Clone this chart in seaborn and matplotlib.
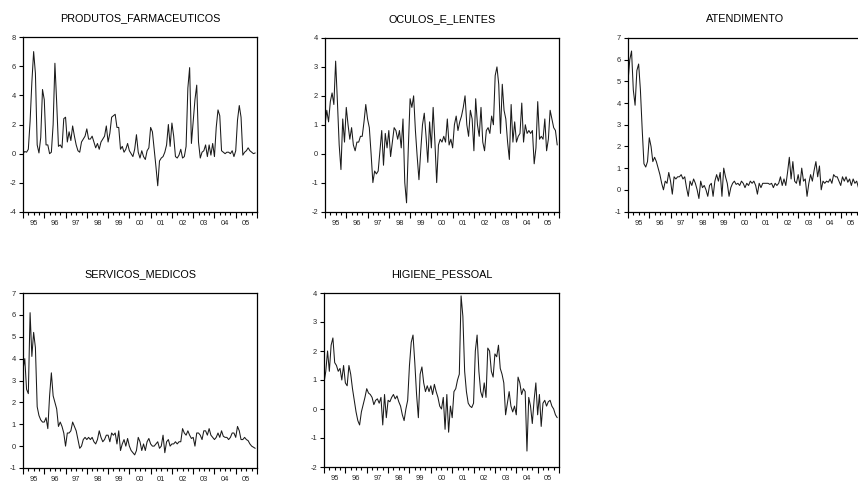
import numpy as np
import pandas as pd
import matplotlib
matplotlib.use("Agg")
import matplotlib.pyplot as plt
import seaborn as sns
from matplotlib.ticker import MultipleLocator

start_year = 1995
year_labels = ["95", "96", "97", "98", "99", "00", "01", "02", "03", "04", "05"]

produtos_farmaceuticos = [
    0.0, 0.15, 0.1, 0.3, 2.2, 4.9, 7.0, 5.5, 0.6, 0.05, 1.1, 4.4,
    3.7, 0.6, 0.6, 0.0, 0.1, 2.0, 6.2, 3.5, 0.5, 0.6, 0.4, 2.4,
    2.5, 0.8, 1.5, 0.9, 1.9, 1.2, 0.6, 0.2, 0.1, 0.8, 1.0, 1.2,
    1.7, 1.0, 1.0, 1.2, 0.8, 0.4, 0.7, 0.3, 0.8, 1.0, 1.2, 1.9,
    0.8, 1.4, 2.5, 2.6, 2.7, 1.8, 1.8, 0.3, 0.5, 0.1, 0.3, 0.7,
    0.2, 0.0, -0.2, 0.3, 1.3, 0.1, -0.3, 0.2, -0.2, -0.4, 0.2, 0.4,
    1.8, 1.5, 0.3, -0.9, -2.2, -0.5, -0.3, -0.2, 0.1, 0.6, 2.0, 0.5,
    2.1, 1.2, -0.2, -0.3, -0.1, 0.3, -0.3, -0.2, 0.5, 4.5, 5.9, 0.7,
    2.2, 3.7, 4.7, 0.8, -0.3, 0.1, 0.2, 0.6, -0.2, 0.6, -0.1, 0.7,
    -0.2, 1.8, 3.0, 2.6, 0.2, 0.1, 0.0, 0.1, 0.1, 0.0, 0.2, -0.2,
    0.2, 2.3, 3.3, 2.5, -0.1, 0.1, 0.2, 0.4, 0.2, 0.1, 0.0, 0.05,
]

oculos_e_lentes = [
    1.0, 1.5, 1.1, 1.8, 2.1, 1.7, 3.2, 1.8, 0.3, -0.55, 1.2, 0.4,
    1.6, 1.0, 0.5, 0.9, 0.3, 0.1, 0.4, 0.4, 0.6, 0.6, 1.1, 1.7,
    1.2, 0.9, 0.0, -1.0, -0.6, -0.7, -0.6, 0.1, 0.8, -0.4, 0.7, 0.2,
    0.8, -0.1, 0.4, 0.9, 0.8, 0.5, 0.8, 0.2, 1.2, -1.0, -1.7, 0.2,
    1.9, 1.6, 2.0, 0.8, -0.1, -0.9, 0.1, 1.0, 1.4, 0.6, -0.3, 1.1,
    0.2, 1.6, 0.4, -1.0, 0.3, 0.5, 0.4, 0.6, 0.4, 1.2, 0.3, 0.5,
    0.2, 1.0, 1.3, 0.8, 1.1, 1.3, 1.6, 2.0, 1.0, 0.6, 1.5, 1.2,
    0.1, 1.9, 1.0, 0.6, 1.6, 0.4, 0.1, 0.8, 0.9, 0.7, 1.3, 1.0,
    2.7, 3.0, 2.4, 0.7, 2.4, 1.5, 1.2, 0.4, -0.2, 1.7, 0.4, 1.1,
    0.4, 0.6, 0.7, 1.75, 0.4, 1.0, 0.7, 0.8, 0.7, 0.8, -0.35, 0.2,
    1.8, 0.5, 0.6, 0.5, 1.2, 0.1, 0.5, 1.5, 1.2, 0.9, 0.8, 0.3,
]

atendimento = [
    5.0, 6.0, 6.4, 4.6, 3.9, 5.5, 5.8, 4.6, 2.8, 1.2, 1.05, 1.3,
    2.4, 2.0, 1.3, 1.5, 1.3, 1.0, 0.7, 0.3, 0.0, 0.4, 0.3, 0.8,
    0.4, -0.2, 0.6, 0.5, 0.6, 0.6, 0.7, 0.5, 0.6, 0.1, -0.3, 0.4,
    0.2, 0.5, 0.3, 0.0, -0.4, 0.4, 0.1, 0.2, 0.0, -0.3, 0.2, 0.3,
    -0.3, 0.4, 0.7, 0.4, 0.8, -0.3, 1.0, 0.6, 0.3, -0.3, 0.1, 0.3,
    0.4, 0.25, 0.3, 0.2, 0.4, 0.3, 0.1, 0.3, 0.2, 0.4, 0.3, 0.4,
    0.2, -0.2, 0.3, 0.1, 0.3, 0.3, 0.3, 0.3, 0.25, 0.3, 0.1, 0.3,
    0.2, 0.3, 0.6, 0.2, 0.5, 0.2, 0.8, 1.5, 0.5, 1.3, 0.4, 0.3,
    0.7, 0.2, 1.0, 0.4, 0.5, -0.3, 0.3, 0.7, 0.4, 0.9, 1.3, 0.6,
    1.1, 0.0, 0.4, 0.3, 0.4, 0.35, 0.5, 0.3, 0.7, 0.6, 0.6, 0.4,
    0.2, 0.6, 0.4, 0.6, 0.35, 0.5, 0.2, 0.5, 0.3, 0.4, 0.1, 0.3,
]

servicos_medicos = [
    3.5, 4.0, 2.6, 2.4, 6.1, 4.1, 5.2, 4.5, 1.8, 1.4, 1.2, 1.1,
    1.1, 1.3, 0.8, 2.3, 3.35, 2.3, 2.0, 1.7, 0.9, 1.1, 0.9, 0.6,
    0.0, 0.6, 0.6, 0.7, 1.1, 0.9, 0.7, 0.3, -0.1, 0.0, 0.3, 0.4,
    0.3, 0.4, 0.3, 0.4, 0.2, 0.1, 0.3, 0.7, 0.4, 0.2, 0.3, 0.5,
    0.5, 0.2, 0.6, 0.5, 0.6, 0.1, 0.7, -0.2, 0.1, 0.3, 0.0, 0.35,
    0.0, -0.2, -0.3, -0.4, -0.2, 0.4, 0.2, -0.2, 0.1, -0.2, 0.2, 0.35,
    0.1, 0.0, 0.0, 0.1, 0.2, -0.1, 0.0, 0.5, -0.3, 0.2, 0.3, 0.0,
    0.1, 0.1, 0.2, 0.1, 0.2, 0.2, 0.8, 0.6, 0.5, 0.7, 0.5, 0.35,
    0.4, 0.0, 0.6, 0.6, 0.5, 0.3, 0.7, 0.7, 0.5, 0.8, 0.5, 0.4,
    0.3, 0.4, 0.6, 0.4, 0.7, 0.45, 0.4, 0.4, 0.3, 0.4, 0.6, 0.6,
    0.4, 0.9, 0.7, 0.3, 0.3, 0.4, 0.3, 0.25, 0.1, 0.0, -0.05, -0.1,
]

higiene_pessoal = [
    0.9, 1.3, 2.0, 1.3, 2.2, 2.45, 1.6, 1.5, 1.3, 1.4, 1.0, 1.5,
    0.9, 0.8, 1.5, 1.2, 0.7, 0.3, -0.1, -0.4, -0.55, -0.1, 0.15, 0.4,
    0.7, 0.55, 0.5, 0.4, 0.15, 0.3, 0.35, 0.2, 0.4, -0.55, 0.5, -0.3,
    0.3, 0.25, 0.4, 0.5, 0.35, 0.45, 0.25, 0.1, -0.2, -0.4, 0.0, 0.3,
    1.5, 2.3, 2.55, 1.6, 0.5, -0.3, 1.2, 1.45, 0.9, 0.6, 0.8, 0.6,
    0.8, 0.5, 0.85, 0.6, 0.4, 0.1, 0.0, 0.4, -0.7, 0.5, -0.8, 0.1,
    -0.3, 0.6, 0.7, 1.0, 1.2, 3.9, 3.2, 1.3, 0.6, 0.2, 0.1, 0.05,
    0.2, 2.0, 2.55, 1.3, 0.6, 0.4, 0.9, 0.4, 2.1, 2.0, 1.3, 1.1,
    1.9, 1.8, 2.2, 1.4, 1.2, 0.9, -0.2, 0.2, 0.6, 0.1, -0.1, 0.1,
    -0.2, 1.1, 0.9, 0.5, 0.7, 0.6, -1.45, 0.4, 0.1, -0.5, 0.3, 0.9,
    -0.2, 0.5, -0.6, 0.2, 0.3, 0.1, 0.25, 0.3, 0.1, 0.0, -0.2, -0.3,
]

titles = ["PRODUTOS_FARMACEUTICOS", "OCULOS_E_LENTES", "ATENDIMENTO",
          "SERVICOS_MEDICOS", "HIGIENE_PESSOAL"]
series = [produtos_farmaceuticos, oculos_e_lentes, atendimento,
          servicos_medicos, higiene_pessoal]
y_limits = [(-4, 8, 2), (-2, 4, 1), (-1, 7, 1), (-1, 7, 1), (-2, 4, 1)]

sns.set_theme(style="white")
plt.rcParams['font.family'] = ['Liberation Sans', 'DejaVu Sans']

W, H = 858, 483
fig = plt.figure(figsize=(W / 100, H / 100), dpi=100)
fig.patch.set_facecolor("white")

# panel boxes in pixels: left, right, top, bottom
boxes = [(23, 257, 37, 212), (325, 559, 38, 211.5), (628, 862, 38, 211.5),
         (23, 257, 293, 468), (324, 559, 293, 467)]

for title, vals, (lo, hi, step), (l, r, t, b) in zip(titles, series, y_limits, boxes):
    ax = fig.add_axes([l / W, 1 - b / H, (r - l) / W, (b - t) / H])
    n = len(vals)
    df = pd.DataFrame({"t": start_year + np.arange(n) / 12.0, "v": vals})
    sns.lineplot(data=df, x="t", y="v", ax=ax, color="#1a1a1a", linewidth=0.75)
    ax.set_xlim(start_year, start_year + 11)
    ax.set_ylim(lo, hi)
    ax.set_yticks(np.arange(lo, hi + 0.001, step))
    ax.set_yticklabels([str(int(v)) for v in np.arange(lo, hi + 0.001, step)])
    ax.xaxis.set_major_locator(MultipleLocator(1))
    ax.xaxis.set_minor_locator(MultipleLocator(0.25))
    ax.tick_params(axis="x", which="major", direction="out", length=4.5, width=0.8,
                   color="black", labelbottom=False, bottom=True)
    ax.tick_params(axis="x", which="minor", direction="out", length=2.5, width=0.8,
                   color="black", bottom=True)
    ax.tick_params(axis="y", which="major", direction="out", length=3, width=0.8,
                   color="black", labelsize=5.4, pad=2, left=True)
    ax.set_xlabel("")
    ax.set_ylabel("")
    for sp in ax.spines.values():
        sp.set_color("black")
        sp.set_linewidth(0.9)
    sec = ax.secondary_xaxis("bottom")
    sec.set_xticks(np.arange(start_year + 0.5, start_year + 11, 1.0), labels=year_labels)
    sec.tick_params(length=0, labelsize=5.4, pad=6)
    sec.spines["bottom"].set_visible(False)
    ax.set_title(title, fontsize=7.8, pad=11.5, color="black")

fig.savefig("out.png", dpi=100, facecolor="white")
